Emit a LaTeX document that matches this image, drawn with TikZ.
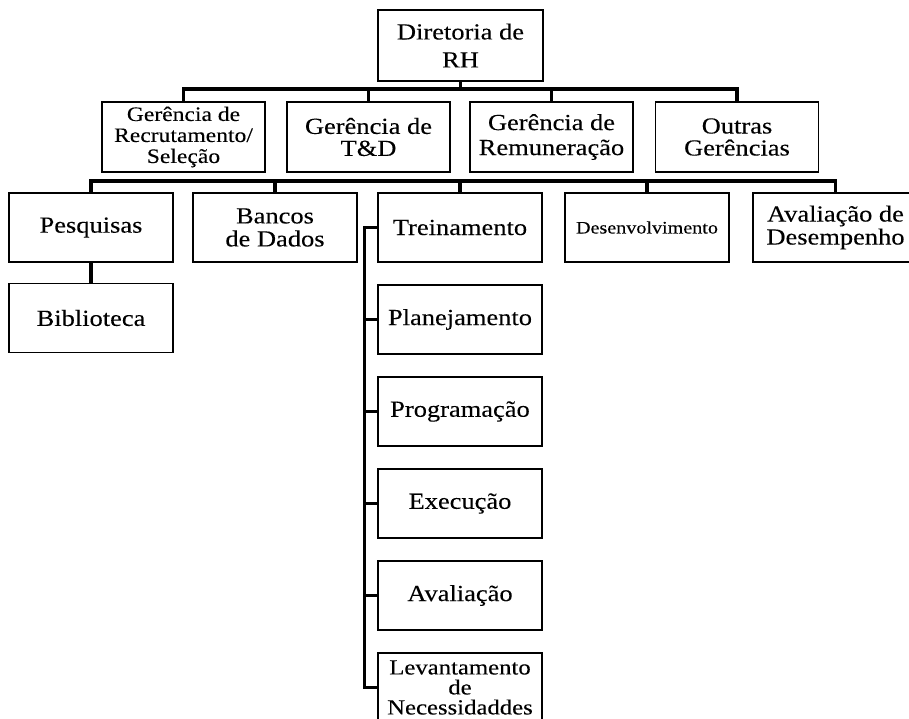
\documentclass[tikz,border=0pt]{standalone}
\usepackage{fontspec}
\setmainfont[FakeStretch=1.15, FakeBold=0.15]{Liberation Serif}
\newcommand\boxfont[2]{\fontsize{#1}{#2}\selectfont}
\tikzset{
  orgbox/.style={draw, line width=1.3pt, minimum width=164pt, minimum height=69pt,
    inner sep=0pt, align=center, font=\boxfont{23}{23}},
  conn/.style={line width=3.2pt, line join=miter, line cap=rect}
}
\begin{document}
\begin{tikzpicture}[x=1pt,y=-1pt]
\useasboundingbox (0,0) rectangle (909,718);
\clip (0,0) rectangle (909,718);

% director
\node[orgbox, minimum width=165pt, minimum height=71pt, font=\boxfont{23}{28}] (dir) at (460.5,45.5) {Diretoria de\\RH};

% managers
\node[orgbox, minimum width=163pt, minimum height=70pt, font=\boxfont{20.5}{21}] (g1) at (183.5,137) {Gerência de\\Recrutamento/\\Seleção};
\node[orgbox, minimum width=163pt, minimum height=70pt, font=\boxfont{23}{22}] (g2) at (368.5,137) {Gerência de\\T\&D};
\node[orgbox, minimum width=163pt, minimum height=70pt, font=\boxfont{23}{25}] (g3) at (551.5,137) {Gerência de\\Remuneração};
\node[orgbox, minimum width=163pt, minimum height=70pt, font=\boxfont{23}{22}] (g4) at (737,137) {Outras\\Gerências};

% T&D areas
\node[orgbox] (pesq) at (91,227.5) {Pesquisas};
\node[orgbox] (banc) at (275,227.5) {Bancos\\de Dados};
\node[orgbox] (trein) at (460,227.5) {Treinamento};
\node[orgbox, font=\boxfont{17.5}{20}] (desen) at (647,227.5) {Desenvolvimento};
\node[orgbox, minimum width=165pt] (aval) at (835.5,227.5) {Avaliação de\\Desempenho};

\node[orgbox] (bib) at (91,318) {Biblioteca};

% training steps
\node[orgbox] (plan) at (460,319.5) {Planejamento};
\node[orgbox] (prog) at (460,411.5) {Programação};
\node[orgbox] (exec) at (460,503.5) {Execução};
\node[orgbox] (avl) at (460,595.5) {Avaliação};
\node[orgbox, font=\boxfont{21.5}{20}] (lev) at (460,687.5) {Levantamento\\de\\Necessidaddes};

% connector rails
\coordinate (rail1) at (0,89);
\coordinate (rail2) at (0,181);

\draw[conn] (dir.south) -- (dir.south |- rail1);
\draw[conn] (g1.north) -- (g1.north |- rail1) -- (g4.north |- rail1) -- (g4.north);
\draw[conn] (g2.north) -- (g2.north |- rail1);
\draw[conn] (g3.north) -- (g3.north |- rail1);

\draw[conn] (pesq.north) -- (pesq.north |- rail2) -- (aval.north |- rail2) -- (aval.north);
\draw[conn] (banc.north) -- (banc.north |- rail2);
\draw[conn] (trein.north) -- (trein.north |- rail2);
\draw[conn] (desen.north) -- (desen.north |- rail2);

\draw[conn] (pesq.south) -- (bib.north);

\draw[conn] (trein.west) -- ++(-13,0) |- (lev.west);
\foreach \n in {plan,prog,exec,avl}
  \draw[conn] (\n.west) -- ++(-13,0);
\end{tikzpicture}
\end{document}
